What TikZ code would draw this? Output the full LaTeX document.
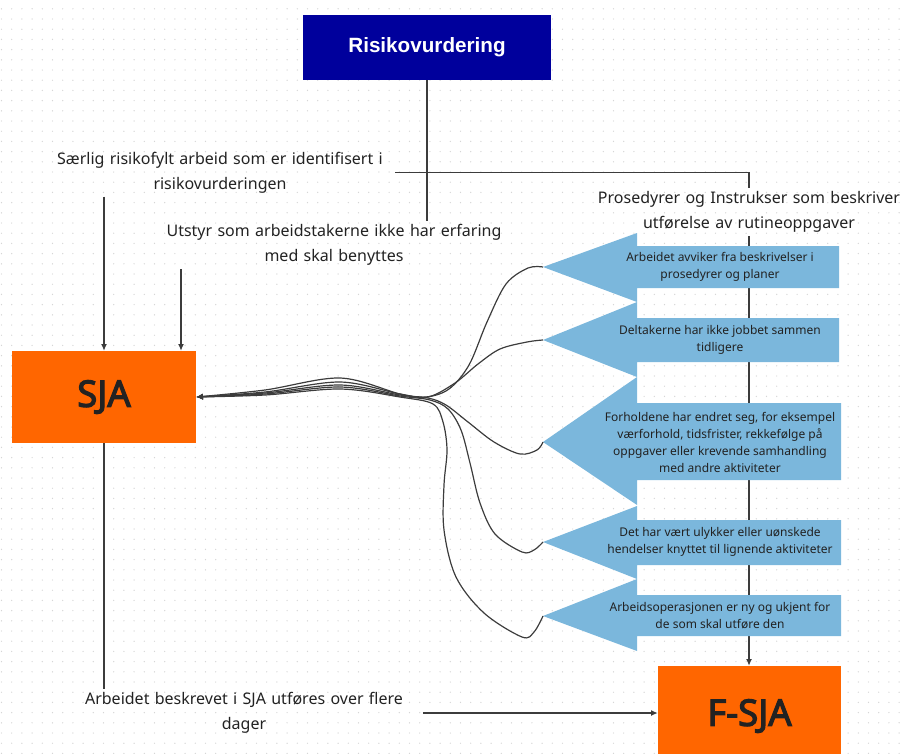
\documentclass[tikz,border=0pt]{standalone}
\usepackage{fontspec}
\setmainfont{Noto Sans}
\newfontfamily\arialfont{Liberation Sans}
\newfontfamily\heavyfont{Noto Sans}[FakeBold=3.2]
\usetikzlibrary{arrows.meta,calc}
\definecolor{navy}{HTML}{00009C}
\definecolor{sjaorange}{HTML}{FF6600}
\definecolor{arrowblue}{RGB}{123,183,220}
\definecolor{linegray}{HTML}{3C3C3C}
\definecolor{txt}{HTML}{222222}
\definecolor{dotgray}{HTML}{D6D6D6}
\begin{document}
\begin{tikzpicture}[x=0.75pt,y=0.75pt,
  conn/.style={draw=linegray,line width=0.9pt},
  arr/.style={-{Latex[length=5pt,width=4.5pt]}},
  plain/.style={font=\fontsize{12}{18.75}\selectfont,text=txt,align=center,inner xsep=0pt,inner ysep=2.5pt},
  tag/.style={font=\fontsize{9}{12.75}\selectfont,text=txt,align=center,inner sep=0pt},
  bigbox/.style={fill=sjaorange,text=txt,font=\heavyfont\fontsize{27.5}{30}\selectfont,inner sep=0pt},
  blockarrow/.style={fill=arrowblue}
]
\useasboundingbox (0,0) rectangle (902,-753);
% dotted grid
\foreach \i in {0,...,88} {
  \foreach \j in {0,...,73} {
    \fill[dotgray] (\i*10.2+1.5,-\j*10.2-8.8) circle (0.7);
  }
}
% boxes and texts
\node[fill=navy,minimum width=186pt,minimum height=48.75pt,inner sep=0pt,
      font=\arialfont\fontsize{15.5}{18}\selectfont\bfseries,text=white] (risk) at (427,-47.5) {Risikovurdering};
\node[plain,text width=262.5pt] (sarlig) at (220,-172.5) {Særlig risikofylt arbeid som er identifisert i\\risikovurderingen};
\node[plain,text width=261pt] (utstyr) at (334,-245) {Utstyr som arbeidstakerne ikke har erfaring\\med skal benyttes};
\node[plain,text width=232.5pt] (prosed) at (749,-212) {Prosedyrer og Instrukser som beskriver\\utførelse av rutineoppgaver};
\node[plain,text width=268pt] (arbeidet) at (244,-713) {Arbeidet beskrevet i SJA utføres over flere\\dager};
\node[bigbox,minimum width=138pt,minimum height=69pt] (sja) at (104,-397) {SJA};
\node[bigbox,minimum width=137.25pt,minimum height=75pt] (fsja) at (749.5,-716) {F-SJA};
% straight connectors
\draw[conn] (risk.south) -- (risk.south |- utstyr.north);
\draw[conn] (sarlig.east) -| (prosed.north);
\draw[conn,arr] (prosed.south) -- (prosed.south |- fsja.north);
\draw[conn,arr] (sarlig.south -| sja.north) -- (sja.north);
\coordinate (u1) at (181,-300);
\draw[conn,arr] (utstyr.south -| u1) -- (u1 |- sja.north);
\draw[conn] (sja.south) -- (sja.south |- arbeidet.north);
\draw[conn,arr] (arbeidet.east) -- (arbeidet.east -| fsja.west);
% block arrows
\fill[blockarrow] (637,-246) -- (839,-246) -- (839,-288) -- (637,-288) -- (637,-302) -- (543,-267) -- (637,-233) -- cycle;
\coordinate (t1) at (543,-267);
\node[tag] (a1) at (720,-267) {Arbeidet avviker fra beskrivelser i\\prosedyrer og planer};
\fill[blockarrow] (637,-318) -- (839,-318) -- (839,-362) -- (637,-362) -- (637,-377) -- (543,-340) -- (637,-302) -- cycle;
\coordinate (t2) at (543,-340);
\node[tag] (a2) at (720,-340) {Deltakerne har ikke jobbet sammen\\tidligere};
\fill[blockarrow] (637,-403) -- (841,-403) -- (841,-480) -- (637,-480) -- (637,-505) -- (543,-442) -- (637,-377) -- cycle;
\coordinate (t3) at (543,-442);
\node[tag] (a3) at (720,-442) {Forholdene har endret seg, for eksempel\\værforhold, tidsfrister, rekkefølge på\\oppgaver eller krevende samhandling\\med andre aktiviteter};
\fill[blockarrow] (637,-520) -- (841,-520) -- (841,-565) -- (637,-565) -- (637,-579) -- (543,-542) -- (637,-506) -- cycle;
\coordinate (t4) at (543,-542);
\node[tag] (a4) at (720,-542) {Det har vært ulykker eller uønskede\\hendelser knyttet til lignende aktiviteter};
\fill[blockarrow] (637,-595) -- (841,-595) -- (841,-636) -- (637,-636) -- (637,-651) -- (543,-616) -- (637,-579) -- cycle;
\coordinate (t5) at (543,-616);
\node[tag] (a5) at (720,-616) {Arbeidsoperasjonen er ny og ukjent for\\de som skal utføre den};
% curved connectors
\draw[conn,arr] plot[smooth,tension=0.55] coordinates {(t1) (528,-268) (506,-284) (487,-322) (469,-365) (449,-389) (426,-397) (400,-394) (340,-378) (265,-390) (sja.east)};
\draw[conn,arr] plot[smooth,tension=0.55] coordinates {(t2) (527,-342) (500,-349) (478,-364) (455,-383) (428,-397) (400,-394) (340,-382) (265,-392) (sja.east)};
\draw[conn,arr] plot[smooth,tension=0.55] coordinates {(t3) (537,-450) (520,-454) (494,-442) (468,-422) (446,-405) (428,-398) (400,-395) (340,-385) (265,-393) (sja.east)};
\draw[conn,arr] plot[smooth,tension=0.55] coordinates {(t4) (534,-550) (522,-552) (495,-534) (480,-503) (470,-463) (461,-430) (448,-409) (430,-400) (400,-396) (340,-387) (265,-394) (sja.east)};
\draw[conn,arr] plot[smooth,tension=0.55] coordinates {(t5) (534,-632) (522,-637) (484,-613) (456,-577) (444,-530) (444,-485) (447,-450) (443,-422) (433,-404) (400,-397) (340,-389) (265,-395) (sja.east)};
\end{tikzpicture}
\end{document}
